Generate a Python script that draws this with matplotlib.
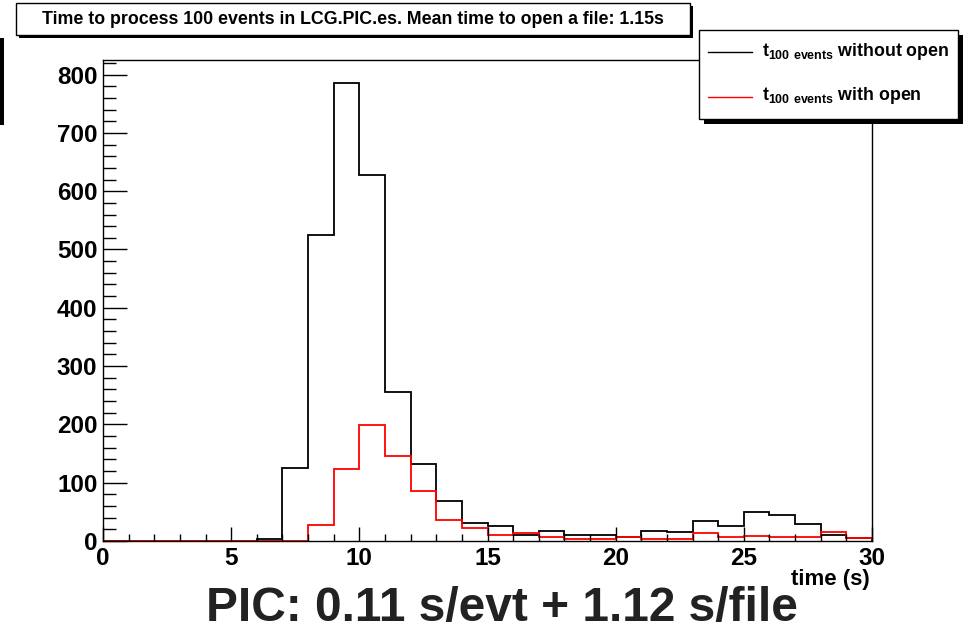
import numpy as np
import matplotlib
matplotlib.use('Agg')
import matplotlib.pyplot as plt
from matplotlib.patches import Rectangle
from matplotlib.lines import Line2D
from matplotlib.ticker import MultipleLocator

plt.rcParams['font.family'] = ['Liberation Sans', 'DejaVu Sans']
plt.rcParams['font.weight'] = 'bold'
plt.rcParams['mathtext.fontset'] = 'custom'
plt.rcParams['mathtext.rm'] = 'Liberation Sans:bold'
plt.rcParams['mathtext.bf'] = 'Liberation Sans:bold'

# histogram contents, 1 s bins from 0 to 30 s
bin_edges = np.arange(0, 31, 1)
counts_without_open = [0, 0, 0, 0, 0, 0, 4, 126, 525, 786, 627, 256, 132, 68, 31,
                       25, 11, 18, 10, 10, 7, 18, 16, 35, 26, 49, 44, 29, 10, 5]
counts_with_open = [0, 0, 0, 0, 0, 0, 0, 0, 27, 123, 199, 145, 86, 36, 23,
                    11, 14, 7, 4, 4, 7, 4, 4, 14, 7, 9, 7, 7, 16, 5]

title = 'Time to process 100 events in LCG.PIC.es. Mean time to open a file: 1.15s'
legend_labels = [r'$\mathbf{t_{100\ events}}$ without open',
                 r'$\mathbf{t_{100\ events}}$ with open']
summary = 'PIC: 0.11 s/evt + 1.12 s/file'

W, H = 972, 631
fig = plt.figure(figsize=(W / 100, H / 100), dpi=100)


def fx(px):
    return px / W


def fy(py):
    return 1 - py / H


ax = fig.add_axes([fx(103), fy(541), fx(872) - fx(103), fy(60) - fy(541)])
ax.stairs(counts_without_open, bin_edges, color='black', lw=1.3)
ax.stairs(counts_with_open, bin_edges, color='red', lw=1.3)
ax.set_xlim(0, 30)
ax.set_ylim(0, 825)

ax.xaxis.set_major_locator(MultipleLocator(5))
ax.xaxis.set_minor_locator(MultipleLocator(1))
ax.yaxis.set_major_locator(MultipleLocator(100))
ax.yaxis.set_minor_locator(MultipleLocator(20))
ax.tick_params(axis='x', which='major', direction='in', length=10, width=1, pad=4, labelsize=17.5)
ax.tick_params(axis='x', which='minor', direction='in', length=5, width=1)
ax.tick_params(axis='y', which='major', direction='in', length=17, width=1, pad=4, labelsize=17.5)
ax.tick_params(axis='y', which='minor', direction='in', length=9, width=1)
for lab in ax.get_xticklabels() + ax.get_yticklabels():
    lab.set_fontweight('bold')
for sp in ax.spines.values():
    sp.set_linewidth(1)

fig.text(fx(870), fy(579), 'time (s)', ha='right', va='center', fontsize=16, fontweight='bold')

# title box with shadow
fig.add_artist(Rectangle((fx(19), fy(38)), fx(674), fy(3) - fy(35), transform=fig.transFigure,
                         facecolor='black', edgecolor='black', lw=0))
fig.add_artist(Rectangle((fx(16), fy(35)), fx(674), fy(3) - fy(35), transform=fig.transFigure,
                         facecolor='white', edgecolor='black', lw=1))
fig.text(fx(353), fy(19), title, ha='center', va='center', fontsize=12.8, fontweight='bold')

# legend box with shadow
fig.add_artist(Rectangle((fx(704), fy(124)), fx(259), fy(30) - fy(119), transform=fig.transFigure,
                         facecolor='black', edgecolor='black', lw=0))
fig.add_artist(Rectangle((fx(699), fy(119)), fx(259), fy(30) - fy(119), transform=fig.transFigure,
                         facecolor='white', edgecolor='black', lw=1))
for i, (lab, col) in enumerate(zip(legend_labels, ['black', 'red'])):
    yy = [52, 97][i]
    fig.add_artist(Line2D([fx(708), fx(752)], [fy(yy), fy(yy)], transform=fig.transFigure,
                          color=col, lw=1))
    fig.text(fx(762), fy(yy - 1), lab, ha='left', va='center', fontsize=12.8, fontweight='bold')

# stray bar at left edge
fig.add_artist(Rectangle((0, fy(125)), fx(4), fy(38) - fy(125), transform=fig.transFigure,
                         facecolor='black', edgecolor='none'))

fig.text(fx(502), fy(609), summary, ha='center', va='center', fontsize=34.5,
         fontweight='bold', color='#222222')

fig.savefig('out.png', dpi=100)
